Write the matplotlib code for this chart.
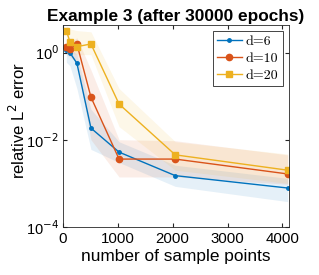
import matplotlib
matplotlib.use("Agg")
import matplotlib.pyplot as plt
import numpy as np

n_samples = [64, 128, 256, 512, 1024, 2048, 4096]

d6_mean = [1.15, 1.0, 0.57, 0.0185, 0.0052, 0.0015, 0.00078]
d6_low = [0.6, 0.5, 0.15, 0.006, 0.003, 0.00085, 0.00038]
d6_high = [1.4, 1.3, 0.9, 0.05, 0.009, 0.0026, 0.0013]

d10_mean = [1.35, 1.2, 1.58, 0.095, 0.0036, 0.0036, 0.00164]
d10_low = [0.9, 0.8, 0.6, 0.01, 0.0014, 0.0014, 0.00095]
d10_high = [1.8, 1.7, 2.2, 0.4, 0.01, 0.0095, 0.0045]

d20_mean = [3.19, 1.79, 1.37, 1.58, 0.066, 0.0045, 0.0020]
d20_low = [2.0, 1.0, 0.9, 0.9, 0.02, 0.002, 0.001]
d20_high = [4.2, 3.5, 3.2, 3.0, 0.15, 0.009, 0.0047]

labels = ["d=6", "d=10", "d=20"]
colors = ["#0072BD", "#D95319", "#EDB120"]

plt.rcParams['font.family'] = ['Liberation Sans', 'DejaVu Sans']

fig = plt.figure(figsize=(3.19, 2.75), dpi=100)
ax = fig.add_axes([0.197, 0.175, 0.709, 0.734])

series = [(d6_mean, d6_low, d6_high, '.', 5),
          (d10_mean, d10_low, d10_high, 'o', 4.5),
          (d20_mean, d20_low, d20_high, 's', 4.5)]
for (m, lo, hi, mk, ms), c in zip(series, colors):
    ax.fill_between(n_samples, lo, hi, color=c, alpha=0.1, linewidth=0)
for (m, lo, hi, mk, ms), c, lab in zip(series, colors, labels):
    ax.plot(n_samples, m, color=c, marker=mk, markersize=ms, linewidth=1.0, label=lab)

ax.set_yscale('log')
ax.set_ylim(1e-4, 4.3)
ax.set_xlim(0, 4120)
ax.set_yticks([1e-4, 1e-2, 1e0])
ax.set_yticklabels([r'10$^{-4}$', r'10$^{-2}$', r'10$^{0}$'])
ax.yaxis.set_minor_locator(matplotlib.ticker.NullLocator())
ax.set_xticks([0, 1000, 2000, 3000, 4000])
ax.tick_params(direction='in', length=3, color='0.15', top=True, right=True, pad=4)
ax.tick_params(axis='x', labelsize=10.8)
ax.tick_params(axis='y', labelsize=10.5, pad=3)
for s in ax.spines.values():
    s.set_color('0.15')
    s.set_linewidth(0.6)

ax.set_title('Example 3 (after 30000 epochs)', fontsize=12.4, fontweight='bold', pad=3)
ax.set_xlabel('number of sample points', fontsize=12.4, labelpad=2)
ax.set_ylabel(r'relative L$^2$ error', fontsize=12)
ax.yaxis.set_label_coords(-0.155, 0.527)

leg = ax.legend(loc='upper right', prop={'family': 'cmr10', 'size': 10},
                fancybox=False, edgecolor='0.15', framealpha=1,
                borderaxespad=0.45, handlelength=1.8, handletextpad=0.3,
                labelspacing=0.3, borderpad=0.3)
leg.get_frame().set_linewidth(0.6)

fig.savefig('out.png', dpi=100)
